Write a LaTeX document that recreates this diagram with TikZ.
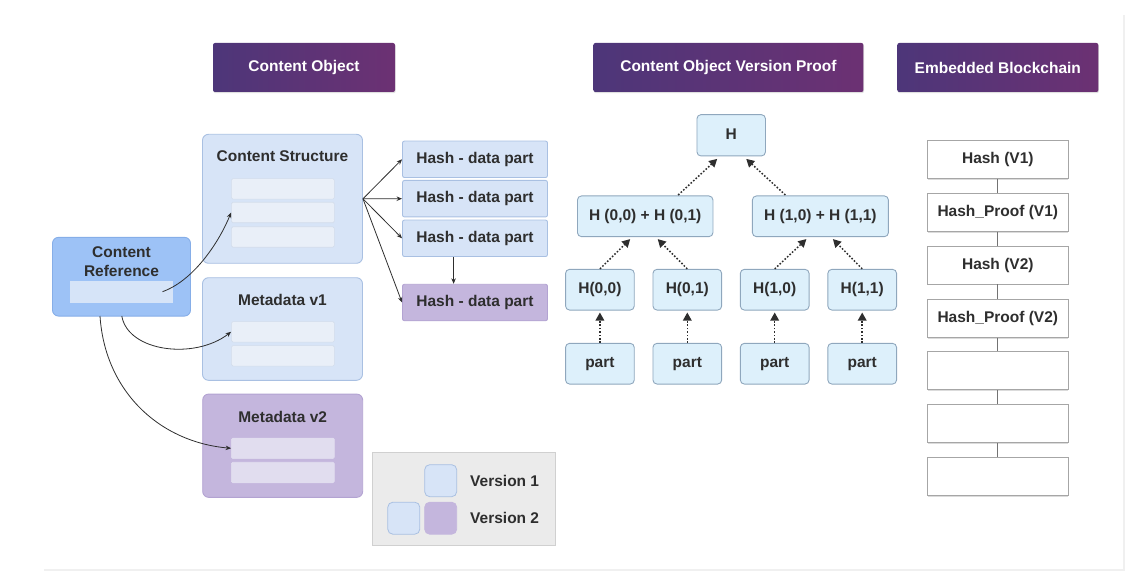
\documentclass[tikz,border=0pt]{standalone}
\usepackage{fontspec}
\setmainfont{Liberation Sans}
\usetikzlibrary{arrows.meta,calc,shadows}
\definecolor{hdrL}{HTML}{4D3679}
\definecolor{hdrR}{HTML}{6C3173}
\definecolor{txt}{HTML}{2E2E2E}
\definecolor{lbFill}{HTML}{D7E4F7}
\definecolor{lbLine}{HTML}{A9C0E2}
\definecolor{barFill}{HTML}{E9EFF8}
\definecolor{barLine}{HTML}{D3DDEB}
\definecolor{crFill}{HTML}{9DC2F6}
\definecolor{crLine}{HTML}{86AEE8}
\definecolor{crBar}{HTML}{D6E4F8}
\definecolor{puFill}{HTML}{C4B6DD}
\definecolor{puLine}{HTML}{B3A3D2}
\definecolor{puBar}{HTML}{E1DDEF}
\definecolor{mkFill}{HTML}{DDF0FB}
\definecolor{mkLine}{HTML}{8FA7BD}
\definecolor{lgFill}{HTML}{EBEBEB}
\definecolor{lgLine}{HTML}{D0D0D0}
\definecolor{bcLine}{HTML}{A6A6A6}
\tikzset{
  lbl/.style={font=\fontsize{15.5}{17.5}\selectfont\bfseries, text=txt},
  header/.style={lbl, text=white, left color=hdrL, right color=hdrR, rounded corners=2pt,
     inner sep=0pt, minimum height=49pt,
     drop shadow={shadow xshift=0.6pt, shadow yshift=-1.2pt, fill=black!25}},
  panel/.style={fill=lbFill, draw=lbLine, line width=0.9pt, rounded corners=6pt, inner sep=0pt, minimum width=160pt},
  ppanel/.style={fill=puFill, draw=puLine, line width=0.9pt, rounded corners=6pt, inner sep=0pt, minimum width=160pt},
  bar/.style={fill=barFill, draw=barLine, line width=0.6pt, rounded corners=1.5pt, inner sep=0pt, minimum width=103pt, minimum height=20.5pt},
  pbar/.style={fill=puBar, draw=puBar, line width=0.6pt, rounded corners=1.5pt, inner sep=0pt, minimum width=103pt, minimum height=20.5pt},
  hashbox/.style={lbl, fill=lbFill, draw=lbLine, line width=0.9pt, rounded corners=2pt, inner sep=0pt, minimum width=145pt, minimum height=36.5pt},
  phashbox/.style={lbl, fill=puFill, draw=puLine, line width=0.9pt, rounded corners=2pt, inner sep=0pt, minimum width=145pt, minimum height=36.5pt},
  mk/.style={lbl, fill=mkFill, draw=mkLine, line width=0.9pt, rounded corners=4pt, inner sep=0pt, minimum height=40.7pt},
  bcbox/.style={lbl, fill=white, draw=bcLine, line width=0.8pt, inner sep=0pt, minimum width=140.3pt, minimum height=38pt,
     drop shadow={shadow xshift=0.5pt, shadow yshift=-1.3pt, fill=black!28}},
  bclink/.style={draw=black!55, line width=0.9pt},
  conn/.style={draw=txt, line width=0.8pt, -{Stealth[length=5.5pt,width=4.5pt]}},
  dotarrow/.style={draw=txt, line width=1.5pt, dash pattern=on 1.6pt off 1.8pt, -{Triangle[length=8pt,width=8.5pt]}},
  sq/.style={rounded corners=5pt, inner sep=0pt, minimum width=32pt, minimum height=32pt, line width=0.8pt},
}
\begin{document}
\begin{tikzpicture}[x=1pt,y=-1pt]
\useasboundingbox (0,0) rectangle (1130,572);
% faint frame
\draw[draw=black!6, line width=2pt] (44,570) -- (1124,570) -- (1124,15);

% headers
\node[header, minimum width=182pt] (hCO) at (304,67.5) {Content Object};
\node[header, minimum width=270pt] (hVP) at (728.4,67.5) {Content Object Version Proof};
\node[header, minimum width=201pt] (hEB) at (997.8,67.5) {Embedded Blockchain};

% content structure
\node[panel, minimum height=129pt] (cs) at (282.5,198.8) {};
\node[lbl] (csT) at (282.5,156) {Content Structure};
\node[bar] (csb1) at (282.9,188.9) {};
\node[bar] (csb2) at (282.9,212.5) {};
\node[bar] (csb3) at (282.9,237) {};

% metadata v1
\node[panel, minimum height=102.6pt] (md1) at (282.5,329) {};
\node[lbl] (md1T) at (282.5,300) {Metadata v1};
\node[bar] (md1b1) at (282.9,331.8) {};
\node[bar] (md1b2) at (282.9,355.8) {};

% metadata v2
\node[ppanel, minimum height=103.3pt] (md2) at (282.7,445.7) {};
\node[lbl] (md2T) at (282.7,416.7) {Metadata v2};
\node[pbar] (md2b1) at (282.9,448.3) {};
\node[pbar] (md2b2) at (282.9,472.5) {};

% content reference
\node[fill=crFill, draw=crLine, line width=0.9pt, rounded corners=6pt, inner sep=0pt,
      minimum width=138pt, minimum height=78.7pt] (cr) at (121.5,276.7) {};
\node[lbl, align=center, font=\fontsize{15.5}{19}\selectfont\bfseries] (crT) at (121.5,261.5) {Content\\Reference};
\node[fill=crBar, draw=crBar, inner sep=0pt, minimum width=102.5pt, minimum height=20.4pt] (crb) at (121.3,291.5) {};

% hash boxes
\node[hashbox] (hash1) at (475,159.3) {Hash - data part};
\node[hashbox] (hash2) at (475,198.7) {Hash - data part};
\node[hashbox] (hash3) at (475,238.3) {Hash - data part};
\node[phashbox] (hash4) at (475,302.5) {Hash - data part};

% fan arrows
\draw[conn] (cs.east) -- (hash1.west);
\draw[conn] (cs.east) -- (hash2.west);
\draw[conn] (cs.east) -- (hash3.west);
\draw[conn] (cs.east) -- (hash4.west);
\draw[conn] (hash3.south -| 453.6,0) -- (hash4.north -| 453.6,0);

% curves from content reference
\coordinate (c1s) at (162.5,291.7);
\coordinate (c2s) at (121.8,316);
\coordinate (c3s) at (100,316);
\draw[conn] (c1s) .. controls (195,280) and (220,240) .. (csb2.west);
\draw[conn] (c2s) .. controls (128,352) and (195,360) .. (md1b1.west);
\draw[conn] (c3s) .. controls (105,392) and (160,442) .. (md2b1.west);

% legend
\node[fill=lgFill, draw=lgLine, line width=0.8pt, inner sep=0pt, minimum width=183pt, minimum height=93.7pt] (lg) at (464,498.8) {};
\node[sq, fill=lbFill, draw=lbLine] (lg1) at (440.7,480.7) {};
\node[sq, fill=lbFill, draw=lbLine] (lg2a) at (403.8,518.2) {};
\node[sq, fill=puFill, draw=puFill] (lg2b) at (440.7,518.2) {};
\node[lbl, anchor=west, inner sep=0pt] (lgT1) at (470,480.7) {Version 1};
\node[lbl, anchor=west, inner sep=0pt] (lgT2) at (470,518.3) {Version 2};

% merkle tree
\node[mk, minimum width=68.5pt, minimum height=41.3pt] (mH) at (731.2,135.3) {\raisebox{3pt}{H}};
\node[mk, minimum width=135.5pt] (mL) at (645.2,216.3) {H (0,0) + H (0,1)};
\node[mk, minimum width=136pt] (mR) at (820.4,216.3) {H (1,0) + H (1,1)};
\node[mk, minimum width=68.7pt] (h00) at (599.9,289.7) {H(0,0)};
\node[mk, minimum width=68.7pt] (h01) at (687.3,289.7) {H(0,1)};
\node[mk, minimum width=68.7pt] (h10) at (774.7,289.7) {H(1,0)};
\node[mk, minimum width=68.7pt] (h11) at (862.2,289.7) {H(1,1)};
\node[mk, minimum width=68.7pt] (p00) at (599.9,363.7) {part};
\node[mk, minimum width=68.7pt] (p01) at (687.3,363.7) {part};
\node[mk, minimum width=68.7pt] (p10) at (774.7,363.7) {part};
\node[mk, minimum width=68.7pt] (p11) at (862.2,363.7) {part};

\draw[dotarrow] ($(mL.north)+(33,-0.5)$) -- ($(mH.south)+(-14,2.5)$);
\draw[dotarrow] ($(mR.north)+(-35,-0.5)$) -- ($(mH.south)+(15,2.5)$);
\draw[dotarrow] (h00.north) -- ($(mL.south)+(-15,2)$);
\draw[dotarrow] (h01.north) -- ($(mL.south)+(12.5,2)$);
\draw[dotarrow] (h10.north) -- ($(mR.south)+(-14,2)$);
\draw[dotarrow] (h11.north) -- ($(mR.south)+(12.5,2)$);
\draw[dotarrow] (p00.north) -- ($(h00.south)+(0,2)$);
\draw[dotarrow] (p01.north) -- ($(h01.south)+(0,2)$);
\draw[dotarrow] (p10.north) -- ($(h10.south)+(0,2)$);
\draw[dotarrow] (p11.north) -- ($(h11.south)+(0,2)$);

% blockchain
\node[bcbox] (bc1) at (997.8,159.3) {Hash (V1)};
\node[bcbox] (bc2) at (997.8,212.3) {Hash\_Proof (V1)};
\node[bcbox] (bc3) at (997.8,265) {Hash (V2)};
\node[bcbox] (bc4) at (997.8,318.3) {Hash\_Proof (V2)};
\node[bcbox] (bc5) at (997.8,370.8) {};
\node[bcbox] (bc6) at (997.8,423.7) {};
\node[bcbox] (bc7) at (997.8,476.5) {};
\draw[bclink] (bc1.south) -- (bc2.north);
\draw[bclink] (bc2.south) -- (bc3.north);
\draw[bclink] (bc3.south) -- (bc4.north);
\draw[bclink] (bc4.south) -- (bc5.north);
\draw[bclink] (bc5.south) -- (bc6.north);
\draw[bclink] (bc6.south) -- (bc7.north);
\end{tikzpicture}
\end{document}
